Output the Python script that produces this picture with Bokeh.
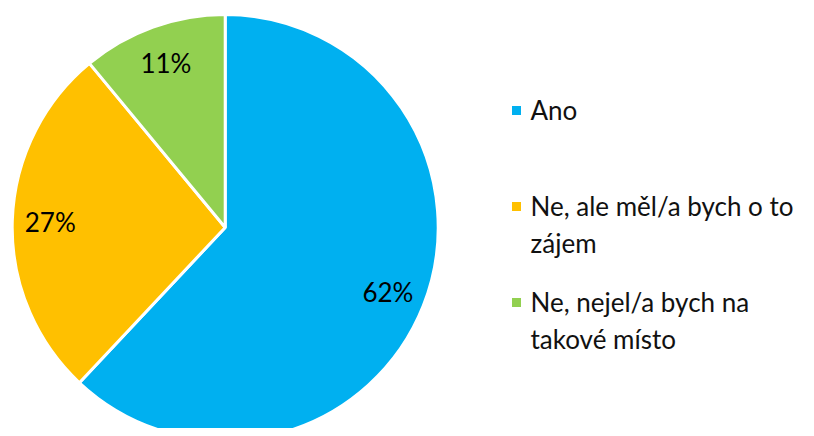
import numpy as np
from bokeh.plotting import figure
from bokeh.models import Range1d, ColumnDataSource
from bokeh.core.properties import value
from bokeh.embed import file_html
from bokeh.resources import INLINE

# ---- data ----
categories = ["Ano", "Ne, ale měl/a bych o to\nzájem", "Ne, nejel/a bych na\ntakové místo"]
shares = [62, 27, 11]
pct_labels = ["62%", "27%", "11%"]
colors = ["#00B0F0", "#FFC000", "#92D050"]

W, H = 798, 428
OFF = 1
p = figure(width=W, height=H, output_backend="svg", toolbar_location=None,
           x_range=Range1d(OFF, OFF + W), y_range=Range1d(0, H),
           min_border=0, outline_line_color=None)
p.axis.visible = False
p.grid.visible = False
p.background_fill_color = "white"
p.border_fill_color = "white"

def Y(sy):  # screen y (reference) -> data y
    return H + OFF - sy

cx, cy, R = 225.7, Y(228), 213
fr = np.array(shares, dtype=float) / sum(shares)
ends = np.pi / 2 - 2 * np.pi * np.cumsum(fr)
starts = ends + 2 * np.pi * fr
mids = (starts + ends) / 2

src = ColumnDataSource(dict(start=starts, end=ends, color=colors,
                            lx=cx + 175 * np.cos(mids), ly=cy + 175 * np.sin(mids),
                            lab=pct_labels))
p.wedge(x=cx, y=cy, radius=R, start_angle="end", end_angle="start",
        fill_color="color", line_color="white", line_width=3, source=src)
p.text(x="lx", y="ly", text="lab", source=src, text_font=value("Lato"),
       text_font_size="26px", text_align="center", text_baseline="middle",
       text_color="#000000")

# ---- legend ----
sq_x, tx = 517, 531
first_y = [110, 206, 302]
line_step = 37
for i, cat in enumerate(categories):
    p.scatter(x=[sq_x], y=[Y(first_y[i] + 1)], marker="square", size=9,
              fill_color=colors[i], line_color=None)
    lines = cat.split("\n")
    p.text(x=[tx] * len(lines), y=[Y(first_y[i] + k * line_step) for k in range(len(lines))],
           text=lines, text_font=value("Lato"), text_font_size="26px",
           text_align="left", text_baseline="middle", text_color="#111111")

open("out.html", "w").write(file_html(p, INLINE))
